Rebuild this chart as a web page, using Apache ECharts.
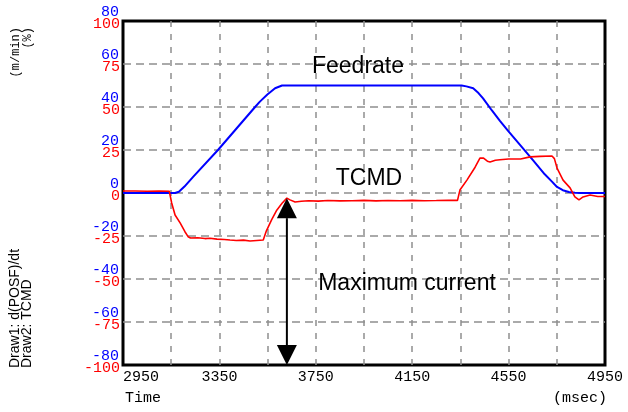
<!DOCTYPE html>
<html><head><meta charset="utf-8">
<script src="https://cdn.jsdelivr.net/npm/echarts@6/dist/echarts.min.js"></script>
<style>html,body{margin:0;padding:0;background:#fff}#c{width:628px;height:412px}</style>
</head><body><div id="c"></div>
<script>
// ---- data ----
const T0 = 2950;                       // time at left edge (msec)
const xTickLabels = ['2950','3350','3750','4150','4550','4950'];

// Feedrate  d(POSF)/dt  (blue, m/min)
const blueTime = [2950,3000,3050,3100,3150,3166,3182,3205,3240,3344,3421,3498,3518,3549,3581,3610,
                  3700,3800,3900,4000,4100,4200,4300,4355,4375,4403,4425,4444,4480,4514,4547,4600,4651,
                  4700,4730,4751,4775,4800,4825,4850,4900,4950];
const blueVal  = [0,0,0,0,0,0,0.6,3,7.4,20,30,40,42.5,45.8,48.7,50,
                  50,50,50,50,50,50,50,50,49.6,48.7,46.5,44,38.5,33.5,29,22,15.3,
                  8.7,5.3,2.8,1.3,0.5,0.1,0,0,0];

// TCMD (red, %)
const redTime = [2950,3000,3050,3100,3142,3152,3166,3187,3207,3220,3230,3260,3290,3311,3340,3370,3394,
                 3420,3450,3477,3505,3532,3545,3567,3588,3610,3630,3643,3664,3690,3720,3760,3800,3850,
                 3900,3950,4000,4050,4100,4150,4200,4250,4300,4338,4348,4377,4411,4431,4446,4462,4473,
                 4495,4514,4550,4600,4639,4680,4730,4740,4751,4776,4805,4825,4842,4859,4888,4920,4950];
const redVal  = [1.2,1.2,1.0,1.2,1.0,-5.8,-12.8,-17.4,-22.5,-25.4,-26.2,-26.0,-26.5,-26.3,-26.8,-27.0,-27.3,
                 -27.6,-27.4,-27.9,-27.6,-27.3,-22,-15.5,-10,-6,-3,-4,-5.2,-4.8,-4.5,-4.7,-4.4,-4.6,
                 -4.5,-4.3,-4.6,-4.4,-4.5,-4.3,-4.5,-4.4,-4.2,-4.3,1.7,7.5,15,20.3,20.3,18.5,18,
                 19,19.3,19.8,19.8,21,21.3,21.5,20,14.5,7.5,3,-2.3,-4,-2.3,-1.2,-2,-2];

// "Maximum current" arrow (time, TCMD from, TCMD to)
const arrowTime = 3630, arrowTop = -3, arrowBottom = -100;

// ---- chart ----
const chart = echarts.init(document.getElementById('c'), null, {renderer:'canvas'});
const toPts = (ts, vs) => ts.map((t,i) => [t - T0, vs[i]]);
const gridColor = '#8f8f8f';

chart.setOption({
  animation:false,
  backgroundColor:'#fff',
  grid:{left:123, right:23, top:21, bottom:47, show:true, borderColor:'#000', borderWidth:3, backgroundColor:'rgba(0,0,0,0)'},
  xAxis:{
    type:'value', min:0, max:2000, interval:200,
    axisLine:{show:false}, axisTick:{show:false},
    splitLine:{show:true, showMinLine:false, showMaxLine:false, lineStyle:{color:gridColor, width:1.5, type:[6,7]}},
    axisLabel:{
      fontFamily:'Liberation Mono', fontSize:15, color:'#000', margin:5,
      alignMinLabel:'left',
      formatter: v => (v % 400 === 0) ? xTickLabels[v/400] : ''
    }
  },
  yAxis:[
    {type:'value', min:-100, max:100, interval:25, position:'left',
     axisLine:{show:false}, axisTick:{show:false},
     splitLine:{show:true, showMinLine:false, showMaxLine:false, lineStyle:{color:gridColor, width:1.5, type:[8,5]}},
     axisLabel:{fontFamily:'Liberation Mono', fontSize:15, color:'#ff0000', margin:3,
                verticalAlign:'top', lineHeight:7}},
    {type:'value', min:-80, max:80, interval:20, position:'left', offset:0,
     axisLine:{show:false}, axisTick:{show:false}, splitLine:{show:false},
     axisLabel:{fontFamily:'Liberation Mono', fontSize:15, color:'#0000ff', margin:4,
                verticalAlign:'bottom', lineHeight:14, padding:[0,0,2,0]}}
  ],
  series:[
    {type:'line', name:'Feedrate', xAxisIndex:0, yAxisIndex:1, data:toPts(blueTime, blueVal),
     showSymbol:false, lineStyle:{color:'#0000ff', width:2}, z:2},
    {type:'line', name:'TCMD', xAxisIndex:0, yAxisIndex:0, data:toPts(redTime, redVal),
     showSymbol:false, lineStyle:{color:'#ff0000', width:1.6}, z:3},
    {type:'custom', xAxisIndex:0, yAxisIndex:0, silent:true, z:5,
     data:[[arrowTime - T0, arrowTop, arrowBottom]],
     renderItem(params, api){
       const top = api.coord([api.value(0), api.value(1)]);
       const bot = api.coord([api.value(0), api.value(2)]);
       const hw = 10, hh = 20;
       return {type:'group', children:[
         {type:'line', shape:{x1:top[0], y1:top[1]+hh, x2:bot[0], y2:bot[1]-hh}, style:{stroke:'#000', lineWidth:2}},
         {type:'polygon', shape:{points:[[top[0],top[1]],[top[0]-hw,top[1]+hh],[top[0]+hw,top[1]+hh]]}, style:{fill:'#000'}},
         {type:'polygon', shape:{points:[[bot[0],bot[1]],[bot[0]-hw,bot[1]-hh],[bot[0]+hw,bot[1]-hh]]}, style:{fill:'#000'}}
       ]};
     }}
  ],
  graphic:[
    {type:'text', x:358, y:67, z:10, style:{text:'Feedrate', font:'23px "Liberation Sans"', fill:'#000', textAlign:'center', textVerticalAlign:'middle'}},
    {type:'text', x:369, y:179, z:10, style:{text:'TCMD', font:'23px "Liberation Sans"', fill:'#000', textAlign:'center', textVerticalAlign:'middle'}},
    {type:'text', x:407, y:284, z:10, style:{text:'Maximum current', font:'23px "Liberation Sans"', fill:'#000', textAlign:'center', textVerticalAlign:'middle'}},
    {type:'text', x:125, y:398, style:{text:'Time', font:'15px "Liberation Mono"', fill:'#000', textAlign:'left', textVerticalAlign:'middle'}},
    {type:'text', x:607, y:398, style:{text:'(msec)', font:'15px "Liberation Mono"', fill:'#000', textAlign:'right', textVerticalAlign:'middle'}},
    {type:'text', x:16, y:27, rotation:Math.PI/2, style:{text:'(m/min)', font:'12px "Liberation Mono"', fill:'#000', textAlign:'right', textVerticalAlign:'middle'}},
    {type:'text', x:28, y:27, rotation:Math.PI/2, style:{text:'(%)', font:'12px "Liberation Mono"', fill:'#000', textAlign:'right', textVerticalAlign:'middle'}},
    {type:'text', x:15, y:368, rotation:Math.PI/2, style:{text:'Draw1: d(POSF)/dt', font:'14px "Liberation Sans"', fill:'#000', textAlign:'left', textVerticalAlign:'middle'}},
    {type:'text', x:27, y:368, rotation:Math.PI/2, style:{text:'Draw2: TCMD', font:'14px "Liberation Sans"', fill:'#000', textAlign:'left', textVerticalAlign:'middle'}}
  ]
});
</script></body></html>
